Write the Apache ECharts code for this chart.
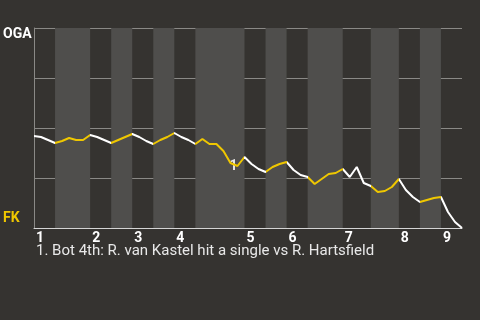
<!DOCTYPE html>
<html>
<head>
<meta charset="utf-8">
<script src="https://cdn.jsdelivr.net/npm/echarts@6/dist/echarts.min.js"></script>
<style>
html,body{margin:0;padding:0;background:#353330;}
#c{width:480px;height:320px;}
</style>
</head>
<body>
<div id="c"></div>
<script>
// Half-inning boundaries (plate-appearance index)
var halfInningBounds = [0,3,8,11,14,17,20,23,30,33,36,39,44,48,52,55,58,61];
// Inning start indices and labels
var inningStarts = [0,8,14,20,30,36,44,52,58];
var inningLabels = ['1','2','3','4','5','6','7','8','9'];
// Win probability toward OGA (0 = FK, 100 = OGA), per plate appearance
var winProb = [46,45.5,44,42.5,43.5,45,44,44,46.5,45.5,44,42.5,44,45.5,47,45.5,43.5,42,44,45.5,
  47.5,45.5,44,42,44.5,42,42,38.5,32.5,31,35.5,32,29.5,28,30.5,32,33,29,26.5,25.5,
  22,24.5,27,27.5,29.5,25.5,30.5,22.5,21,18,18.5,20.5,24.5,19,15.5,13,14,15,15.5,8,3,0];
var teamTop = 'OGA';
var teamBottom = 'FK';
var annotations = [{idx: 28, label: '1'}];
var footnote = '1. Bot 4th: R. van Kastel hit a single vs R. Hartsfield';

var YELLOW = '#efc700';
var WHITE = '#ffffff';

var lineData = winProb.map(function(v, i){ return [i, v]; });

// bottom halves shaded
var bands = [];
var pieces = [];
for (var h = 0; h < halfInningBounds.length - 1; h++) {
  var a = halfInningBounds[h], b = halfInningBounds[h+1];
  var isBottom = (h % 2 === 1);
  if (isBottom) bands.push([{xAxis: a}, {xAxis: b}]);
  pieces.push({gte: a, lt: (h === halfInningBounds.length - 2 ? b + 1 : b), color: isBottom ? YELLOW : WHITE});
}

var chart = echarts.init(document.getElementById('c'), null, {renderer: 'canvas'});
chart.setOption({
  backgroundColor: '#353330',
  animation: false,
  grid: {left: 34, right: 18, top: 28, bottom: 92},
  xAxis: {
    type: 'value', min: 0, max: halfInningBounds[halfInningBounds.length-1],
    axisLine: {show: true, lineStyle: {color: '#d4d4d4', width: 1}},
    axisTick: {show: false},
    splitLine: {show: false},
    axisLabel: {
      customValues: inningStarts,
      formatter: function(v){ var k = inningStarts.indexOf(v); return k >= 0 ? inningLabels[k] : ''; },
      align: 'left', margin: 3, padding: [0,0,0,2],
      color: '#ffffff', fontWeight: 'bold', fontSize: 14, fontFamily: 'Roboto'
    }
  },
  yAxis: {
    type: 'value', min: 0, max: 100, interval: 25,
    axisLine: {show: true, lineStyle: {color: '#8a8986', width: 1}},
    axisTick: {show: false},
    axisLabel: {show: false},
    splitLine: {show: true, lineStyle: {color: '#8a8986', width: 1}}
  },
  visualMap: {
    type: 'piecewise', show: false, dimension: 0, seriesIndex: 0,
    pieces: pieces
  },
  series: [{
    type: 'line',
    data: lineData,
    symbol: 'none',
    lineStyle: {width: 2},
    z: 5,
    markArea: {
      silent: true,
      itemStyle: {color: '#4f4e4c'},
      data: bands
    },
    markPoint: {
      symbol: 'circle', symbolSize: 0,
      label: {show: true, formatter: function(p){ return p.name; }, color: 'rgba(255,255,255,0.85)',
        fontWeight: 'bold', fontSize: 14, fontFamily: 'Roboto', offset: [3, 3]},
      data: annotations.map(function(a){ return {name: a.label, coord: [a.idx, winProb[a.idx]]}; })
    }
  }],
  graphic: [
    {type: 'text', left: 3, top: 27, style: {text: teamTop, fill: '#ffffff', font: 'bold 14px Roboto'}},
    {type: 'text', left: 3, top: 211, style: {text: teamBottom, fill: YELLOW, font: 'bold 14px Roboto'}},
    {type: 'text', left: 36, top: 244, style: {text: footnote, fill: '#e8e8e8', font: '15px Roboto'}}
  ]
});
</script>
</body>
</html>
